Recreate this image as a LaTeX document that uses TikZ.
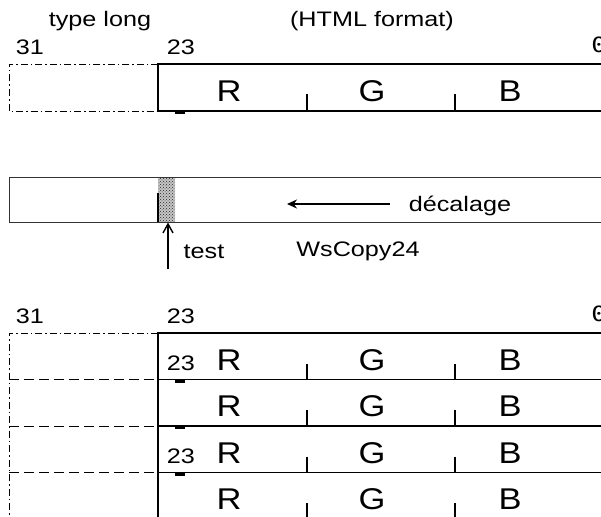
\documentclass[tikz,border=0pt]{standalone}
\usepackage{fontspec}
\setmainfont{Liberation Sans}
\newfontfamily\zerofont{DejaVu Sans Mono}
\usetikzlibrary{arrows.meta,patterns}
\newcommand\hwide[1]{\scalebox{1.2}[1]{#1}}
\newcommand\hwider[1]{\scalebox{1.15}[1]{#1}}
\begin{document}
\begin{tikzpicture}[x=1pt,y=-1pt,
  lbl/.style={anchor=base,inner sep=0pt,font=\fontsize{21}{25}\selectfont},
  big/.style={anchor=base,inner sep=0pt,font=\fontsize{30}{34}\selectfont},
  solidbox/.style={line width=1.7pt},
  dashdot/.style={line width=0.8pt,dash pattern=on 7pt off 3pt on 1.5pt off 3pt},
  dashline/.style={line width=0.8pt,dash pattern=on 10pt off 5pt},
  ticko/.style={line width=1.1pt},
  marker/.style={line width=2.5pt},
  thinbar/.style={line width=1pt,draw=black!80}]
\useasboundingbox (0,0) rectangle (601,516);

% ---------- top block ----------
\node[lbl] (typelong) at (100,27) {\hwide{type long}};
\node[lbl] (html) at (372,27) {\hwide{(HTML format)}};
\node[lbl] (t31) at (30,55) {\hwide{31}};
\node[lbl] (t23) at (181,55) {\hwide{23}};
\node[lbl] (t0) at (599,53) {\hwide{\zerofont 0}};

\draw[dashdot] (158,64) -- (9,64) -- (9,111) -- (158,111);
\draw[solidbox] (604,64) -- (158,64) -- (158,111) -- (604,111);
\draw[ticko] (307,94) -- (307,111);
\draw[ticko] (455,94) -- (455,111);
\draw[marker] (175,113) -- (185,113);
\node[big] (tR) at (229,102) {\hwider{R}};
\node[big] (tG) at (372,102) {\hwider{G}};
\node[big] (tB) at (510,102) {\hwider{B}};

% ---------- middle bar ----------
\fill[gray!45] (158,177) rectangle (175,222);
\fill[pattern=crosshatch dots, pattern color=black!85] (158,177) rectangle (175,222);
\draw[thinbar] (9,177) rectangle (604,222);
\draw[line width=1.5pt] (158,193) -- (158,222);
\coordinate (testtail) at (168,269);
\coordinate (testhead) at (168,222.5);
\draw[line width=1.4pt,-{Straight Barb[length=9pt,width=10pt]}] (testtail) -- (testhead);
\coordinate (decstart) at (390,204);
\coordinate (decend) at (287,204);
\draw[line width=1.5pt,-{Stealth[length=10pt,width=9pt]}] (decstart) -- (decend);
\node[lbl] (dec) at (460,211) {\hwide{décalage}};
\node[lbl] (test) at (204,258) {\hwide{test}};
\node[lbl] (ws) at (358,256) {\hwide{WsCopy24}};

% ---------- bottom block ----------
\node[lbl] (b31) at (30,323) {\hwide{31}};
\node[lbl] (b23) at (181,323) {\hwide{23}};
\node[lbl] (b0) at (599,321) {\hwide{\zerofont 0}};

\draw[dashdot] (158,333) -- (9,333) -- (9,520);
\foreach \yy in {379.5,426,472.5} {
  \draw[dashline] (9,\yy) -- (158,\yy);
  \draw[solidbox] (158,\yy) -- (604,\yy);
  \draw[marker] (175,\yy+1.8) -- (185,\yy+1.8);
}
\draw[solidbox] (604,333) -- (158,333) -- (158,520);
\foreach \yy/\nm in {379.5/a,426/b,472.5/c,519/d} {
  \draw[ticko] (307,\yy-16) -- (307,\yy);
  \draw[ticko] (455,\yy-16) -- (455,\yy);
  \node[big] (R\nm) at (229,\yy-9.5) {\hwider{R}};
  \node[big] (G\nm) at (372,\yy-9.5) {\hwider{G}};
  \node[big] (B\nm) at (510,\yy-9.5) {\hwider{B}};
}
\node[lbl] (in23a) at (181,370) {\hwide{23}};
\node[lbl] (in23c) at (181,463) {\hwide{23}};
\end{tikzpicture}
\end{document}
